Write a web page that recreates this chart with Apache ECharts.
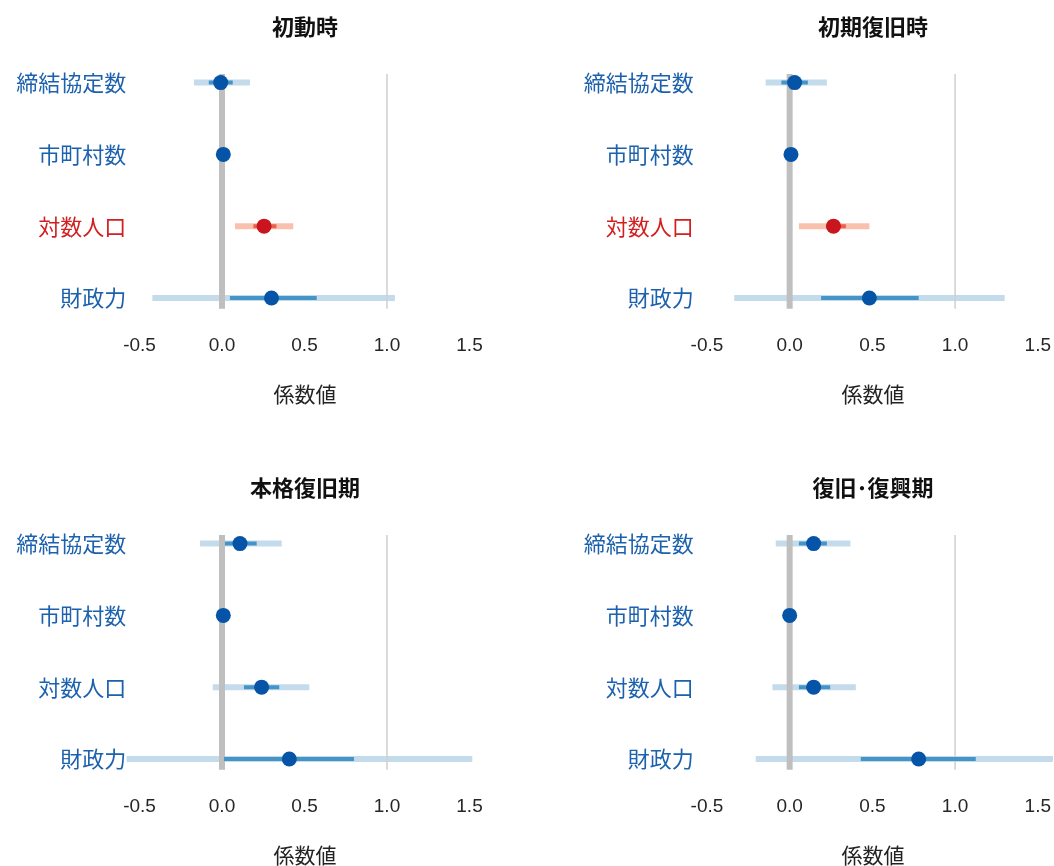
<!DOCTYPE html>
<html>
<head>
<meta charset="utf-8">
<script src="https://cdn.jsdelivr.net/npm/echarts@6/dist/echarts.min.js"></script>
<style>
  html, body { margin: 0; padding: 0; background: #ffffff; }
  #chart { width: 1054px; height: 866px; }
</style>
</head>
<body>
<div id="chart"></div>
<script>
// Regression variables (rows) and disaster phases (panels)
const variables = ['締結協定数', '市町村数', '対数人口', '財政力'];
const periods = ['初動時', '初期復旧時', '本格復旧期', '復旧･復興期'];

// Point estimates, one row per phase, in variable order
const estimate = [
  [-0.008, 0.008, 0.255, 0.300],
  [0.030, 0.008, 0.265, 0.482],
  [0.109, 0.008, 0.240, 0.408],
  [0.145, 0.000, 0.145, 0.780]
];
// Wide (outer) interval bounds
const outerLow = [
  [-0.170, -0.010, 0.079, -0.422],
  [-0.145, -0.010, 0.056, -0.335],
  [-0.133, -0.010, -0.056, -0.578],
  [-0.084, -0.012, -0.104, -0.205]
];
const outerHigh = [
  [0.170, 0.025, 0.432, 1.048],
  [0.225, 0.025, 0.482, 1.300],
  [0.362, 0.025, 0.529, 1.517],
  [0.367, 0.012, 0.400, 1.765]
];
// Narrow (inner) interval bounds
const innerLow = [
  [-0.080, 0.000, 0.190, 0.048],
  [-0.050, 0.000, 0.220, 0.190],
  [0.018, 0.000, 0.133, 0.012],
  [0.056, -0.006, 0.056, 0.430]
];
const innerHigh = [
  [0.065, 0.016, 0.330, 0.574],
  [0.110, 0.016, 0.340, 0.780],
  [0.210, 0.016, 0.347, 0.800],
  [0.225, 0.006, 0.245, 1.125]
];
// Row index of the highlighted (significant) variable in each phase, -1 = none
const significantRow = [2, 2, -1, -1];

// Reference lines and tick values on the coefficient axis
const refLines = [0, 1];
const xTicks = [-0.5, 0, 0.5, 1, 1.5];

const CJK = '"Noto Sans CJK JP", "Noto Sans", sans-serif';
const BLUE = { point: '#0654a8', outer: '#c4dbec', inner: '#4594c8', label: '#1c61ad' };
const RED = { point: '#c9161e', outer: '#f9c0ad', inner: '#ec5f4f', label: '#d21f1f' };

// Panel placement: [gridLeft, gridTop, gridWidth, axisMax, titleX]
const panelLayout = [
  [126.3, 74, 363, 1.62, 305],
  [693.7, 74, 360.2, 1.59, 873],
  [126.3, 535, 363, 1.62, 305],
  [693.7, 535, 360.2, 1.59, 873]
];
const gridHeight = 234.7;

const grids = [], xAxes = [], yAxes = [], series = [], graphics = [];

periods.forEach((period, p) => {
  const [left, top, width, xMax, cx] = panelLayout[p];
  const sig = significantRow[p];
  grids.push({ left: left, top: top, width: width, height: gridHeight });

  xAxes.push({
    gridIndex: p, type: 'value', min: -0.58, max: xMax,
    axisLine: { show: false }, axisTick: { show: false }, splitLine: { show: false },
    axisLabel: {
      customValues: xTicks, margin: 28,
      formatter: v => v.toFixed(1),
      fontFamily: '"Liberation Sans", Arial, sans-serif', fontSize: 19, color: '#262626'
    }
  });

  yAxes.push({
    gridIndex: p, type: 'value', inverse: true, min: 0.88, max: 4.15,
    axisLine: { show: false }, axisTick: { show: false }, splitLine: { show: false },
    axisLabel: {
      customValues: [1, 2, 3, 4], margin: 0, align: 'right',
      formatter: v => {
        const i = Math.round(v) - 1;
        return (i === sig ? '{r|' : '{b|') + variables[i] + '}';
      },
      rich: {
        b: { color: BLUE.label, fontSize: 22, fontFamily: CJK },
        r: { color: RED.label, fontSize: 22, fontFamily: CJK }
      }
    }
  });

  const palette = i => (i === sig ? RED : BLUE);

  // Vertical reference lines at 0 (thick) and 1 (thin)
  series.push({
    type: 'custom', xAxisIndex: p, yAxisIndex: p, z: 2, silent: true,
    data: refLines.map(v => [v]),
    encode: { x: 0 },
    renderItem: (params, api) => {
      const cs = params.coordSys;
      const x = api.coord([api.value(0), 1])[0];
      const thick = api.value(0) === 0;
      return {
        type: 'line',
        shape: { x1: x, y1: cs.y, x2: x, y2: cs.y + cs.height },
        style: { stroke: thick ? '#bfbfbf' : '#cfcfcf', lineWidth: thick ? 6 : 1.5 }
      };
    }
  });

  // Interval bars: outer (light) and inner (dark)
  const intervalSeries = (lows, highs, key, widthPx, z) => ({
    type: 'custom', xAxisIndex: p, yAxisIndex: p, z: z, silent: true, clip: true,
    data: variables.map((_, i) => [lows[p][i], highs[p][i], i + 1]),
    encode: { x: [0, 1], y: 2 },
    renderItem: (params, api) => {
      const row = api.value(2);
      const a = api.coord([api.value(0), row]);
      const b = api.coord([api.value(1), row]);
      return {
        type: 'line',
        shape: { x1: a[0], y1: a[1], x2: b[0], y2: b[1] },
        style: { stroke: palette(row - 1)[key], lineWidth: widthPx }
      };
    }
  });
  series.push(intervalSeries(outerLow, outerHigh, 'outer', 6, 1));
  series.push(intervalSeries(innerLow, innerHigh, 'inner', 4, 3));

  // Point estimates
  series.push({
    type: 'scatter', xAxisIndex: p, yAxisIndex: p, z: 4, silent: true,
    symbol: 'circle', symbolSize: 15,
    data: variables.map((_, i) => ({
      value: [estimate[p][i], i + 1],
      itemStyle: { color: palette(i).point, opacity: 1 }
    }))
  });

  // Panel title and axis title
  graphics.push({
    type: 'text', x: cx, y: top - 47,
    style: { text: period, textAlign: 'center', textVerticalAlign: 'middle',
      font: 'bold 22px ' + CJK, fill: '#111111' }
  });
  graphics.push({
    type: 'text', x: cx, y: top + gridHeight + 85,
    style: { text: '係数値', textAlign: 'center', textVerticalAlign: 'middle',
      font: '21px ' + CJK, fill: '#222222' }
  });
});

const chart = echarts.init(document.getElementById('chart'), null, { renderer: 'canvas' });
chart.setOption({
  animation: false,
  backgroundColor: '#ffffff',
  grid: grids,
  xAxis: xAxes,
  yAxis: yAxes,
  series: series,
  graphic: graphics
});
</script>
</body>
</html>
